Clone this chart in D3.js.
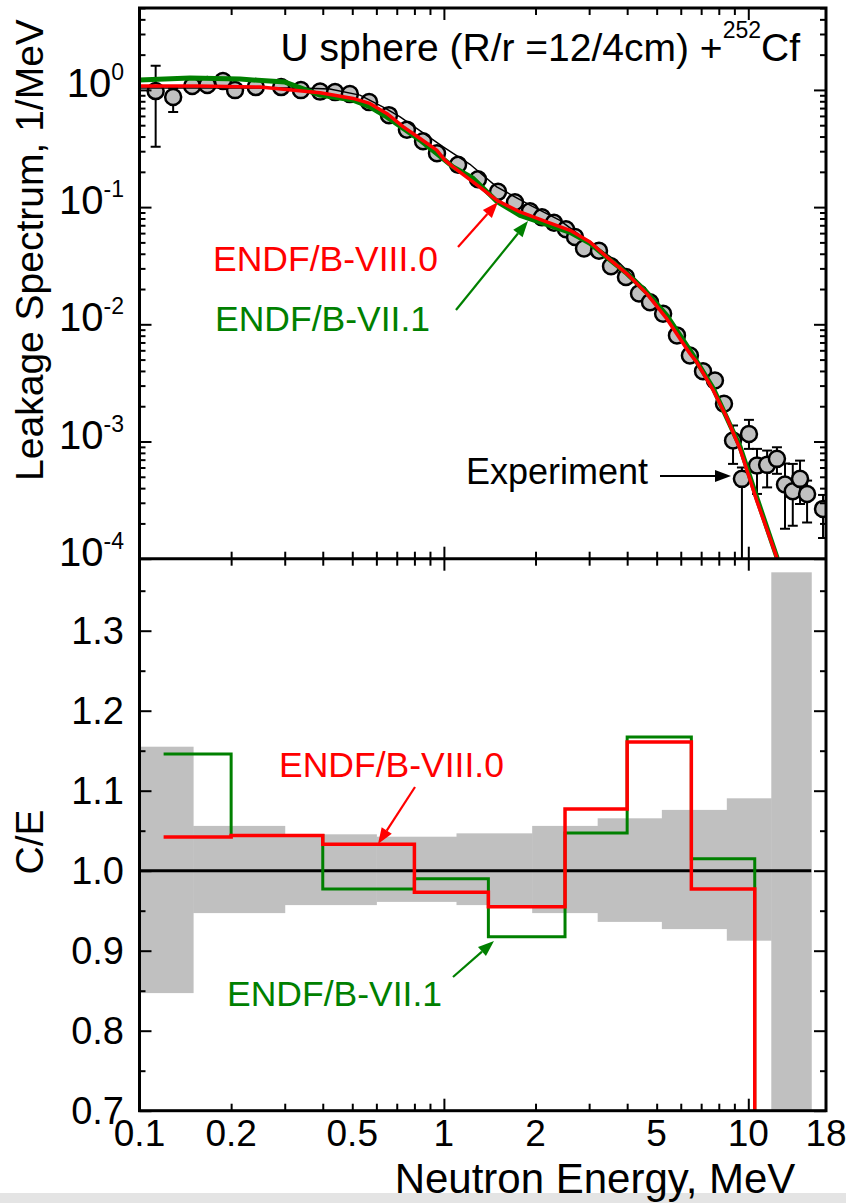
<!DOCTYPE html>
<html>
<head>
<meta charset="utf-8">
<script src="https://cdn.jsdelivr.net/npm/d3@7"></script>
<style>
  body { margin: 0; background: #fff; }
  svg { display: block; font-family: "Liberation Sans", Arial, sans-serif; }
</style>
</head>
<body>
<svg id="chart" width="846" height="1203"></svg>
<script>
// ---- data ----
const xLabels = [0.1, 0.2, 0.5, 1, 2, 5, 10, 18];
const xMajor = [0.1, 1, 10];
const xMinor = [0.2, 0.3, 0.4, 0.5, 0.6, 0.7, 0.8, 0.9, 2, 3, 4, 5, 6, 7, 8, 9];
const yTopDecades = [1e-4, 1e-3, 1e-2, 1e-1, 1];
const yBotMajor = [0.7, 0.8, 0.9, 1.0, 1.1, 1.2, 1.3];
const yBotMinor = [0.75, 0.85, 0.95, 1.05, 1.15, 1.25, 1.35];

// experiment (MeV, 1/MeV) with error bar ends
const expE = [0.113, 0.129, 0.149, 0.167, 0.188, 0.206, 0.241, 0.292, 0.339, 0.392, 0.439, 0.491, 0.568, 0.66, 0.756, 0.854, 0.949, 1.113, 1.294, 1.506, 1.712, 1.918, 2.10, 2.30, 2.518, 2.696, 2.886, 3.232, 3.54, 3.963, 4.375, 4.754, 5.25, 5.83, 6.43, 7.10, 7.77, 8.32, 8.91, 9.53, 10.05, 10.68, 11.53, 12.42, 13.2, 14.0, 14.79, 15.6, 17.6];
const expV = [0.977, 0.869, 1.079, 1.10, 1.19, 0.996, 1.057, 1.057, 0.996, 0.967, 0.958, 0.921, 0.787, 0.609, 0.458, 0.365, 0.288, 0.230, 0.173, 0.135, 0.110, 0.0922, 0.0818, 0.0735, 0.0647, 0.0556, 0.0443, 0.0424, 0.0313, 0.0253, 0.0183, 0.0154, 0.0123, 0.00804, 0.00542, 0.00398, 0.00332, 0.0021, 0.00102, 0.00048, 0.00116, 0.000623, 0.000632, 0.000711, 0.000429, 0.000376, 0.00048, 0.000357, 0.000266];
const expHi = [1.607, 1.037, 1.10, 1.12, 1.21, 1.02, 1.08, 1.08, 1.02, 0.99, 0.98, 0.94, 0.80, 0.62, 0.466, 0.371, 0.293, 0.234, 0.176, 0.137, 0.112, 0.0937, 0.0832, 0.0748, 0.0658, 0.0566, 0.0451, 0.0432, 0.0319, 0.0258, 0.0187, 0.0157, 0.0126, 0.0082, 0.00554, 0.00408, 0.0034, 0.00218, 0.00137, 0.00060, 0.00153, 0.000865, 0.000837, 0.000893, 0.000649, 0.000644, 0.000687, 0.000464, 0.00035];
const expLo = [0.327, 0.647, 1.06, 1.08, 1.17, 0.976, 1.036, 1.036, 0.976, 0.947, 0.938, 0.902, 0.774, 0.598, 0.45, 0.359, 0.283, 0.226, 0.17, 0.133, 0.108, 0.0907, 0.0804, 0.0722, 0.0636, 0.0546, 0.0435, 0.0416, 0.0307, 0.0248, 0.0179, 0.0151, 0.012, 0.00788, 0.0053, 0.00388, 0.00324, 0.00202, 0.000644, 0.00001, 0.000865, 0.000357, 0.000406, 0.00053, 0.00018, 0.000191, 0.000293, 0.000204, 0.00015];

// thin black curve
const blackE = [0.1, 0.337, 0.422, 0.530, 0.641, 0.718, 0.995, 1.218, 1.491, 1.918, 2.406, 2.944, 3.789, 4.875, 5.965];
const blackV = [1.036, 1.036, 1.016, 0.903, 0.70, 0.589, 0.327, 0.232, 0.149, 0.104, 0.0772, 0.0521, 0.033, 0.0171, 0.00804];

// ENDF/B-VIII.0 spectrum
const redE = [0.1, 0.158, 0.249, 0.392, 0.503, 0.571, 0.649, 0.736, 0.835, 0.947, 1.008, 1.071, 1.246, 1.491, 1.778, 2.176, 2.597, 3.02, 3.43, 3.987, 4.638, 5.395, 6.434, 6.768, 7.674, 8.49, 9.39, 10.66, 12.4, 13.0];
const redV = [1.078, 1.078, 1.057, 0.945, 0.846, 0.767, 0.630, 0.484, 0.385, 0.306, 0.2515, 0.2204, 0.164, 0.1145, 0.0909, 0.0747, 0.0634, 0.0504, 0.0375, 0.0271, 0.01827, 0.01117, 0.00561, 0.00475, 0.002725, 0.001612, 0.000866, 0.000313, 0.0001026, 0.00005];

// ENDF/B-VII.1 spectrum
const greenE = [0.1, 0.1465, 0.2139, 0.3006, 0.392, 0.503, 0.571, 0.649, 0.736, 0.835, 0.947, 1.071, 1.246, 1.491, 1.778, 2.176, 2.597, 3.02, 3.43, 3.987, 4.638, 5.395, 6.434, 7.674, 9.39, 10.66, 12.4, 13.0];
const greenV = [1.213, 1.262, 1.237, 1.166, 0.903, 0.818, 0.718, 0.589, 0.469, 0.3727, 0.287, 0.2204, 0.1765, 0.1122, 0.0852, 0.0714, 0.061, 0.0491, 0.0373, 0.0272, 0.01874, 0.01192, 0.00599, 0.002835, 0.000906, 0.000332, 0.000104, 0.00005];

// C/E panel: experimental uncertainty band
const bandEdges = [0.1, 0.15, 0.3, 0.6, 1.1, 1.95, 3.2, 5.2, 8.5, 11.9, 16.1];
const bandHi = [1.155, 1.056, 1.0455, 1.0425, 1.0467, 1.056, 1.0655, 1.076, 1.0905, 1.373];
const bandLo = [0.847, 0.947, 0.957, 0.961, 0.957, 0.947, 0.936, 0.927, 0.9125, 0.6];

// C/E step histograms
const ceEdges = [0.12, 0.2, 0.4, 0.8, 1.4, 2.5, 4.0, 6.5, 10.5];
const ceRed = [1.042, 1.044, 1.033, 0.973, 0.955, 1.077, 1.161, 0.977];
const ceGreen = [1.146, 1.044, 0.977, 0.990, 0.9175, 1.047, 1.167, 1.015];

// ---- layout ----
const L = 139.5, R = 826, T = 8, M = 558.7, B = 1110.7;
const RED = "#ff0000", GREEN = "#008000";

const svg = d3.select("#chart");
const x = d3.scaleLog().domain([0.1, 18]).range([L, R]);
const yTop = d3.scaleLog().domain([1e-4, 5]).range([M, T]);
const yBot = d3.scaleLinear().domain([0.7, 1.39]).range([B, M]);

// bottom grey strip of the original screenshot
svg.append("rect").attr("x", 0).attr("y", 1193).attr("width", 846).attr("height", 10).attr("fill", "#e4e4e4");

const defs = svg.append("defs");
defs.append("clipPath").attr("id", "clipTop").append("rect")
  .attr("x", L).attr("y", T).attr("width", R - L).attr("height", M - T);
defs.append("clipPath").attr("id", "clipBot").append("rect")
  .attr("x", L).attr("y", M).attr("width", R - L).attr("height", B - M);

// ---------- bottom panel ----------
const gb = svg.append("g").attr("clip-path", "url(#clipBot)");
gb.selectAll("rect.band")
  .data(bandHi)
  .join("rect")
  .attr("class", "band")
  .attr("x", (d, i) => x(bandEdges[i]))
  .attr("width", (d, i) => x(bandEdges[i + 1]) - x(bandEdges[i]) + 0.5)
  .attr("y", (d) => yBot(d))
  .attr("height", (d, i) => yBot(bandLo[i]) - yBot(d))
  .attr("fill", "#c0c0c0");

gb.append("line")
  .attr("x1", x(0.1)).attr("x2", x(16.1))
  .attr("y1", yBot(1)).attr("y2", yBot(1))
  .attr("stroke", "#000").attr("stroke-width", 3);

const stepLine = d3.line().x((d) => x(d[0])).y((d) => yBot(d[1])).curve(d3.curveStepAfter);
function stepPts(vals) {
  const pts = vals.map((v, i) => [ceEdges[i], v]);
  pts.push([ceEdges[ceEdges.length - 1], 0.6]);
  return pts;
}
gb.append("path").attr("d", stepLine(stepPts(ceGreen)))
  .attr("fill", "none").attr("stroke", GREEN).attr("stroke-width", 3);
gb.append("path").attr("d", stepLine(stepPts(ceRed)))
  .attr("fill", "none").attr("stroke", RED).attr("stroke-width", 3.5);

// ---------- top panel ----------
const gt = svg.append("g").attr("clip-path", "url(#clipTop)");
const specLine = d3.line().x((d) => x(d[0])).y((d) => yTop(d[1]));

// error bars
const eb = gt.append("g").attr("stroke", "#000").attr("stroke-width", 2);
expE.forEach((e, i) => {
  const cx = x(e), y1 = yTop(expHi[i]), y2 = yTop(expLo[i]);
  if (y2 - y1 < 18) return;
  eb.append("line").attr("x1", cx).attr("x2", cx).attr("y1", y1).attr("y2", y2);
  eb.append("line").attr("x1", cx - 5).attr("x2", cx + 5).attr("y1", y1).attr("y2", y1);
  eb.append("line").attr("x1", cx - 5).attr("x2", cx + 5).attr("y1", y2).attr("y2", y2);
});

gt.selectAll("circle")
  .data(expE)
  .join("circle")
  .attr("cx", (d) => x(d))
  .attr("cy", (d, i) => yTop(expV[i]))
  .attr("r", 8)
  .attr("fill", "#c0c0c0")
  .attr("stroke", "#000")
  .attr("stroke-width", 2.5);

gt.append("path").attr("d", specLine(blackE.map((e, i) => [e, blackV[i]])))
  .attr("fill", "none").attr("stroke", "#000").attr("stroke-width", 1.5);
gt.append("path").attr("d", specLine(greenE.map((e, i) => [e, greenV[i]])))
  .attr("fill", "none").attr("stroke", GREEN).attr("stroke-width", 5).attr("stroke-linejoin", "round");
gt.append("path").attr("d", specLine(redE.map((e, i) => [e, redV[i]])))
  .attr("fill", "none").attr("stroke", RED).attr("stroke-width", 3.5).attr("stroke-linejoin", "round");

// ---------- axes ----------
function xAxis(gen, y, size, vals) {
  svg.append("g")
    .attr("transform", `translate(0,${y})`)
    .call(gen(x).tickValues(vals).tickSize(size).tickFormat("").tickSizeOuter(0))
    .call((g) => g.select(".domain").remove())
    .selectAll("line").attr("stroke", "#000").attr("stroke-width", 2);
}
xAxis(d3.axisTop, T, -12, xMajor);
xAxis(d3.axisTop, T, -7, xMinor);
xAxis(d3.axisBottom, M, -12, xMajor);
xAxis(d3.axisBottom, M, -7, xMinor);
xAxis(d3.axisTop, M, -12, xMajor);
xAxis(d3.axisTop, M, -7, xMinor);
xAxis(d3.axisBottom, B, -12, xMajor);
xAxis(d3.axisBottom, B, -7, xMinor);

const topMinor = [];
yTopDecades.forEach((d) => { for (let k = 2; k <= 9; k++) if (d * k <= 5) topMinor.push(d * k); });

function yAxis(gen, xp, scale, size, vals) {
  svg.append("g")
    .attr("transform", `translate(${xp},0)`)
    .call(gen(scale).tickValues(vals).tickSize(size).tickFormat("").tickSizeOuter(0))
    .call((g) => g.select(".domain").remove())
    .selectAll("line").attr("stroke", "#000").attr("stroke-width", 2);
}
yAxis(d3.axisLeft, L, yTop, -12, yTopDecades);
yAxis(d3.axisLeft, L, yTop, -6, topMinor);
yAxis(d3.axisRight, R, yTop, -12, yTopDecades);
yAxis(d3.axisRight, R, yTop, -6, topMinor);
yAxis(d3.axisLeft, L, yBot, -12, yBotMajor);
yAxis(d3.axisLeft, L, yBot, -6, yBotMinor);
yAxis(d3.axisRight, R, yBot, -12, yBotMajor);
yAxis(d3.axisRight, R, yBot, -6, yBotMinor);

// frames
svg.append("rect").attr("x", L).attr("y", T).attr("width", R - L).attr("height", B - T)
  .attr("fill", "none").attr("stroke", "#000").attr("stroke-width", 3);
svg.append("line").attr("x1", L).attr("x2", R).attr("y1", M).attr("y2", M)
  .attr("stroke", "#000").attr("stroke-width", 3);

// tick labels
svg.append("g").selectAll("text")
  .data(xLabels)
  .join("text")
  .attr("x", (d) => x(d))
  .attr("y", 1146)
  .attr("text-anchor", "middle")
  .attr("font-size", 37)
  .text((d) => d);

const ytl = svg.append("g").selectAll("text")
  .data(yTopDecades)
  .join("text")
  .attr("x", 124)
  .attr("y", (d) => yTop(d) + 7)
  .attr("text-anchor", "end")
  .attr("font-size", 40);
ytl.append("tspan").text("10");
ytl.append("tspan").attr("font-size", 23).attr("dy", -17).text((d) => Math.round(Math.log10(d)));

svg.append("g").selectAll("text")
  .data(yBotMajor)
  .join("text")
  .attr("x", 124)
  .attr("y", (d) => yBot(d) + 13)
  .attr("text-anchor", "end")
  .attr("font-size", 38)
  .text((d) => d.toFixed(1));

// axis titles
svg.append("text")
  .attr("transform", "translate(43,250) rotate(-90)")
  .attr("text-anchor", "middle").attr("font-size", 39)
  .text("Leakage Spectrum, 1/MeV");
svg.append("text")
  .attr("transform", "translate(43,842) rotate(-90)")
  .attr("text-anchor", "middle").attr("font-size", 39)
  .text("C/E");
svg.append("text")
  .attr("x", 595).attr("y", 1193)
  .attr("text-anchor", "middle").attr("font-size", 42)
  .text("Neutron Energy, MeV");

// title
const title = svg.append("text").attr("x", 800).attr("y", 61).attr("text-anchor", "end").attr("font-size", 39);
title.append("tspan").text("U sphere (R/r =12/4cm) +");
title.append("tspan").attr("font-size", 23).attr("dy", -23).text("252");
title.append("tspan").attr("dy", 23).text("Cf");

// annotations
function arrow(x1, y1, x2, y2, color) {
  const ang = Math.atan2(y2 - y1, x2 - x1), len = 16, w = 6;
  const bx = x2 - len * Math.cos(ang), by = y2 - len * Math.sin(ang);
  svg.append("line").attr("x1", x1).attr("y1", y1).attr("x2", bx).attr("y2", by)
    .attr("stroke", color).attr("stroke-width", 2.2);
  const px = -Math.sin(ang) * w, py = Math.cos(ang) * w;
  svg.append("path")
    .attr("d", `M${x2},${y2}L${bx + px},${by + py}L${bx - px},${by - py}Z`)
    .attr("fill", color);
}
function label(tx, ty, txt, color) {
  svg.append("text").attr("x", tx).attr("y", ty).attr("font-size", 35.5).attr("fill", color).text(txt);
}
label(213, 271, "ENDF/B-VIII.0", RED);
label(215, 331, "ENDF/B-VII.1", GREEN);
arrow(458, 247, 498, 202, RED);
arrow(456, 310, 528, 221, GREEN);

svg.append("text").attr("x", 648).attr("y", 484).attr("text-anchor", "end").attr("font-size", 36).text("Experiment");
arrow(660, 476, 731, 476, "#000");

label(279, 777, "ENDF/B-VIII.0", RED);
label(227, 1006, "ENDF/B-VII.1", GREEN);
arrow(415, 787, 378, 844, RED);
arrow(453, 977, 494, 941, GREEN);
</script>
</body>
</html>
